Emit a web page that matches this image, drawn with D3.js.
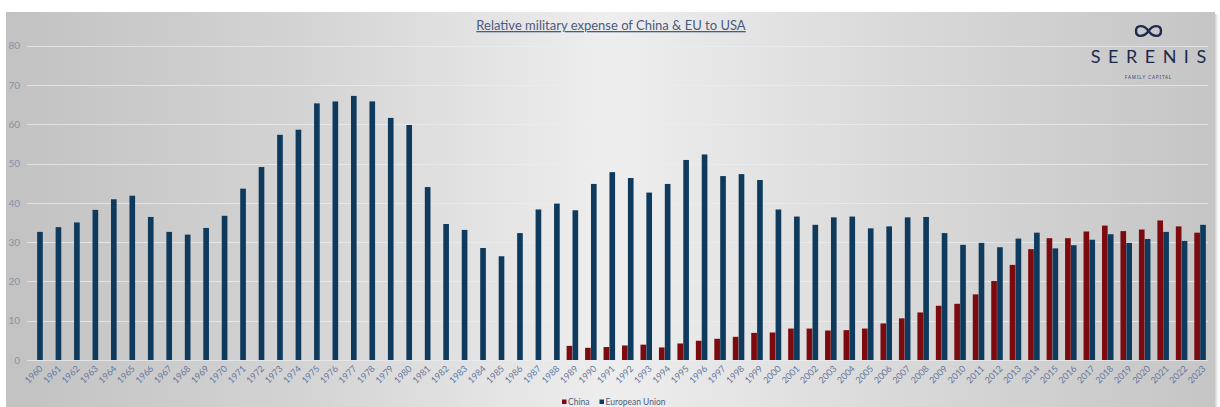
<!DOCTYPE html>
<html>
<head>
<meta charset="utf-8">
<script src="https://cdn.jsdelivr.net/npm/d3@7"></script>
<style>
  html, body { margin: 0; padding: 0; background: #ffffff; }
  svg { display: block; }
</style>
</head>
<body>
<svg id="chart" width="1220" height="407"></svg>
<script>
const years = d3.range(1960, 2024).map(String);
const seriesNames = ["China", "European Union"];
const chinaValues = [
  null, null, null, null, null, null, null, null, null, null,
  null, null, null, null, null, null, null, null, null, null,
  null, null, null, null, null, null, null, null, null,
  3.6, 3.1, 3.3, 3.7, 3.9, 3.2, 4.2, 4.9, 5.4, 5.9, 6.9,
  7.0, 8.0, 8.0, 7.5, 7.6, 8.0, 9.3, 10.6, 12.1, 13.8,
  14.3, 16.7, 20.1, 24.2, 28.2, 31.0, 31.0, 32.7, 34.2, 32.8,
  33.2, 35.5, 34.0, 32.4
];
const euValues = [
  32.6, 33.8, 35.0, 38.2, 40.9, 41.8, 36.4, 32.6, 31.9, 33.6,
  36.7, 43.6, 49.1, 57.3, 58.6, 65.3, 65.8, 67.2, 65.8, 61.6,
  59.8, 44.0, 34.6, 33.1, 28.5, 26.4, 32.3, 38.3, 39.8, 38.1,
  44.8, 47.8, 46.3, 42.6, 44.8, 50.9, 52.3, 46.8, 47.3, 45.8,
  38.3, 36.5, 34.4, 36.3, 36.5, 33.5, 34.0, 36.3, 36.4, 32.3,
  29.3, 29.8, 28.7, 30.9, 32.4, 28.4, 29.2, 30.6, 32.0, 29.8,
  30.8, 32.6, 30.3, 34.4
];
const yTicks = [0, 10, 20, 30, 40, 50, 60, 70, 80];
const titleText = "Relative military expense of China & EU to USA";

const colors = { "China": "#7b0b0e", "European Union": "#0e3a5d" };

const svg = d3.select("#chart");
const defs = svg.append("defs");

// Panel background gradient
const bg = defs.append("linearGradient").attr("id", "bgGrad")
  .attr("x1", "0%").attr("x2", "100%").attr("y1", "0%").attr("y2", "0%");
bg.append("stop").attr("offset", "0%").attr("stop-color", "#c2c2c2");
bg.append("stop").attr("offset", "25%").attr("stop-color", "#d4d4d4");
bg.append("stop").attr("offset", "50%").attr("stop-color", "#eeeeee");
bg.append("stop").attr("offset", "75%").attr("stop-color", "#d8d8d8");
bg.append("stop").attr("offset", "100%").attr("stop-color", "#c5c5c5");

const shadow = defs.append("linearGradient").attr("id", "shadowGrad")
  .attr("x1", "0%").attr("x2", "100%");
shadow.append("stop").attr("offset", "0%").attr("stop-color", "#8a8a8a").attr("stop-opacity", 0.6);
shadow.append("stop").attr("offset", "100%").attr("stop-color", "#ffffff").attr("stop-opacity", 0);

svg.append("rect").attr("x", 1214).attr("y", 14).attr("width", 6).attr("height", 393)
  .attr("fill", "url(#shadowGrad)");
svg.append("rect").attr("x", 6).attr("y", 12).attr("width", 1209).attr("height", 395)
  .attr("fill", "url(#bgGrad)");

// Scales
const x0 = d3.scaleBand().domain(years).range([27.8, 1209.3]).paddingInner(0.35).paddingOuter(0.175);
const x1 = d3.scaleBand().domain(seriesNames).range([0, x0.bandwidth()]).padding(0.04);
const y = d3.scaleLinear().domain([0, 80]).range([360, 45.6]);

// Gridlines
const grid = svg.append("g").attr("class", "grid");
grid.selectAll("line").data(yTicks).join("line")
  .attr("x1", 27).attr("x2", 1208)
  .attr("y1", d => Math.round(y(d)) + 0.5).attr("y2", d => Math.round(y(d)) + 0.5)
  .attr("stroke", "#e9edf2").attr("stroke-opacity", 0.75).attr("stroke-width", 1);

// Y axis labels
const yAxis = d3.axisLeft(y).tickValues(yTicks).tickSize(0).tickPadding(0);
const yg = svg.append("g").attr("transform", "translate(20,0)").call(yAxis);
yg.select(".domain").remove();
yg.selectAll("text")
  .attr("fill", "#8692a8").attr("font-family", "Lato, 'Noto Sans', sans-serif")
  .attr("font-size", "10px");

// Bars
const rows = years.map((yr, i) => ({ year: yr, vals: [
  { key: "China", v: chinaValues[i] },
  { key: "European Union", v: euValues[i] }
]}));
const groups = svg.append("g").selectAll("g").data(rows).join("g")
  .attr("transform", d => `translate(${x0(d.year)},0)`);
groups.selectAll("rect").data(d => d.vals.filter(e => e.v != null)).join("rect")
  .attr("x", d => x1(d.key))
  .attr("width", x1.bandwidth())
  .attr("y", d => y(d.v))
  .attr("height", d => y(0) - y(d.v))
  .attr("fill", d => colors[d.key]);

// X axis labels
const xAxis = d3.axisBottom(x0).tickSize(0).tickPadding(0);
const xg = svg.append("g").attr("transform", "translate(0,367)").call(xAxis);
xg.select(".domain").remove();
xg.selectAll("text")
  .attr("fill", "#6678a0").attr("font-family", "Lato, 'Noto Sans', sans-serif")
  .attr("font-size", "9px")
  .attr("text-anchor", "end")
  .attr("dy", "0.35em")
  .attr("transform", "translate(4,0) rotate(-45)");

// Title
svg.append("text").attr("x", 611).attr("y", 30)
  .attr("text-anchor", "middle")
  .attr("font-family", "Lato, 'Noto Sans', sans-serif")
  .attr("font-size", "13px")
  .attr("fill", "#4a5a80")
  .attr("text-decoration", "underline")
  .text(titleText);

// Legend
const legend = svg.append("g").attr("font-family", "Lato, 'Noto Sans', sans-serif")
  .attr("font-size", "8.5px").attr("fill", "#4e5d7c");
const legendX = { "China": 562, "European Union": 599.5 };
seriesNames.forEach(name => {
  legend.append("rect").attr("x", legendX[name]).attr("y", 399.5)
    .attr("width", 4.5).attr("height", 4.5).attr("fill", colors[name]);
  legend.append("text").attr("x", legendX[name] + 6).attr("y", 405)
    .text(name);
});

// Logo
const logo = svg.append("g");
logo.append("path")
  .attr("d", "M1148.5,31 C1144,24.5 1136,24.5 1136,31 C1136,37.5 1144,37.5 1148.5,31 C1153,24.5 1161,24.5 1161,31 C1161,37.5 1153,37.5 1148.5,31 Z")
  .attr("fill", "none").attr("stroke", "#1d2a4d").attr("stroke-width", 2.4);
logo.append("text").attr("x", 1148.5).attr("y", 63)
  .attr("text-anchor", "middle")
  .attr("font-family", "Lato, 'Noto Sans', sans-serif")
  .attr("font-size", "18px").attr("letter-spacing", "7.5px")
  .attr("fill", "#1d2a4d")
  .attr("dx", "3.75px")
  .text("SERENIS");
logo.append("text").attr("x", 1148.5).attr("y", 79)
  .attr("text-anchor", "middle")
  .attr("font-family", "'Noto Sans', sans-serif")
  .attr("font-size", "4.6px").attr("letter-spacing", "0.9px")
  .attr("fill", "#3a4668")
  .text("FAMILY CAPITAL");
</script>
</body>
</html>
